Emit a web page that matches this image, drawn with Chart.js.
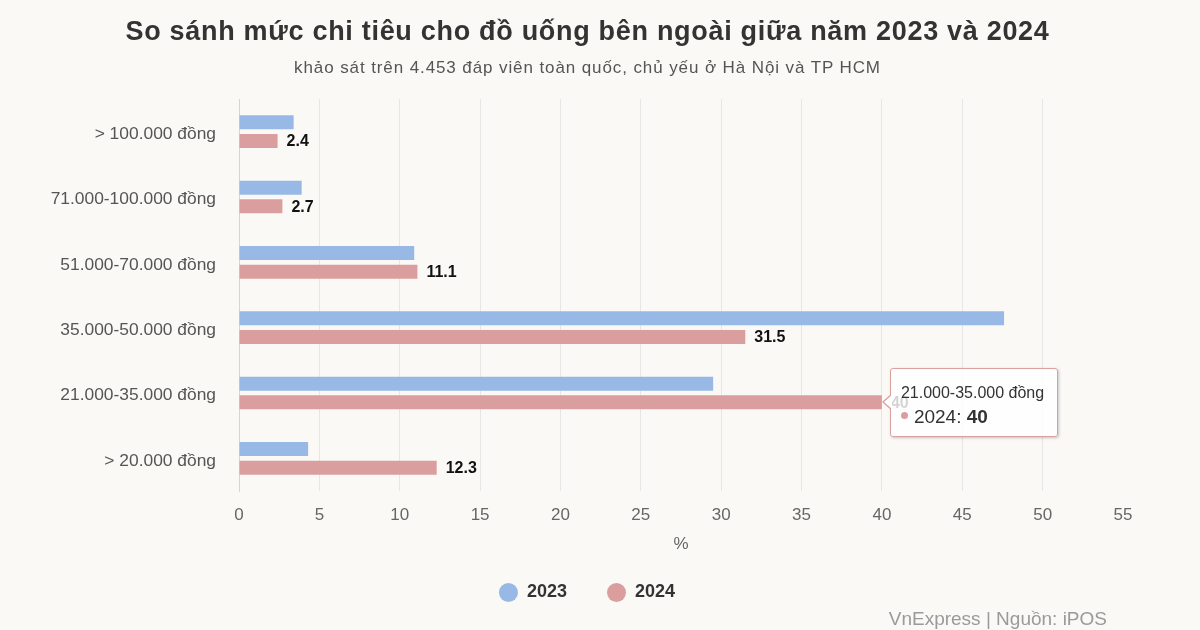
<!DOCTYPE html>
<html>
<head>
<meta charset="utf-8">
<script src="https://cdn.jsdelivr.net/npm/chart.js@4/dist/chart.umd.min.js"></script>
<style>
  html, body { margin: 0; padding: 0; background: #faf9f6; }
  body { width: 1200px; height: 630px; position: relative; overflow: hidden; font-family: 'Liberation Sans', Arial, sans-serif; }
  #title { position: absolute; top: 16px; left: 0; width: 1175px; text-align: center; font-size: 27px; letter-spacing: 0.7px; font-weight: bold; color: #333; }
  #subtitle { position: absolute; top: 58px; left: 0; width: 1175px; text-align: center; font-size: 17px; letter-spacing: 0.9px; color: #555; }
  #footer { position: absolute; top: 608px; right: 93px; font-size: 19px; color: #9a9a9a; }
  #wrap { position: absolute; left: 0; top: 0; width: 1200px; height: 630px; }
  #tt { position: absolute; display: none; background: rgba(255,255,255,0.82); border: 1px solid #dba0a0; border-radius: 3px;
        box-shadow: 1px 1px 3px rgba(0,0,0,0.22); padding: 14px 13px 8px 10px; pointer-events: none; white-space: nowrap; }
  #tt::before { content: ''; position: absolute; left: -9px; top: 50%; margin-top: -8px; border-style: solid;
        border-width: 8px 9px 8px 0; border-color: transparent #dba0a0 transparent transparent; }
  #tt::after { content: ''; position: absolute; left: -7px; top: 50%; margin-top: -7px; border-style: solid;
        border-width: 7px 8px 7px 0; border-color: transparent #ffffff transparent transparent; }
  #tt .t { font-size: 16px; line-height: 20px; color: #333; }
  #tt .b { font-size: 19px; line-height: 22px; margin-top: 3px; color: #333; }
  #tt .dot { display: inline-block; width: 7px; height: 7px; border-radius: 50%; margin-right: 6px; vertical-align: 4px; }
</style>
</head>
<body>
<div id="wrap"><canvas id="c" width="1200" height="630"></canvas></div>
<div id="title">So sánh mức chi tiêu cho đồ uống bên ngoài giữa năm 2023 và 2024</div>
<div id="subtitle">khảo sát trên 4.453 đáp viên toàn quốc, chủ yếu ở Hà Nội và TP HCM</div>
<div id="footer">VnExpress | Nguồn: iPOS</div>
<div id="tt"></div>
<script>
const categories = ['> 100.000 đồng', '71.000-100.000 đồng', '51.000-70.000 đồng', '35.000-50.000 đồng', '21.000-35.000 đồng', '> 20.000 đồng'];
const seriesNames = ['2023', '2024'];
const values2023 = [3.4, 3.9, 10.9, 47.6, 29.5, 4.3];
const values2024 = [2.4, 2.7, 11.1, 31.5, 40, 12.3];
const xMin = 0, xMax = 55, xStep = 5;
const xTitle = '%';
const tooltipCategory = 4; // 21.000-35.000 đồng
const tooltipSeries = 1;   // 2024

const BLUE = '#98b9e6';
const RED = '#db9e9e';
const PAD_LEFT = 51;

Chart.defaults.font.family = "'Liberation Sans', Arial, sans-serif";

const valueLabels = {
  id: 'valueLabels',
  afterDatasetsDraw(chart) {
    const ctx = chart.ctx;
    const meta = chart.getDatasetMeta(1);
    const data = chart.data.datasets[1].data;
    ctx.save();
    ctx.font = "bold 16px 'Liberation Sans', Arial, sans-serif";
    ctx.fillStyle = '#111';
    ctx.textAlign = 'left';
    ctx.textBaseline = 'middle';
    meta.data.forEach((bar, i) => {
      ctx.fillText(String(data[i]), bar.x + 9, bar.y + 1);
    });
    ctx.restore();
  }
};

const legendFit = {
  id: 'legendFit',
  beforeInit(chart) {
    const orig = chart.legend.fit;
    chart.legend.fit = function () {
      orig.call(this);
      this.height = 67;
    };
  }
};

function externalTooltip(context) {
  const tt = document.getElementById('tt');
  const model = context.tooltip;
  if (model.opacity === 0 || !model.dataPoints || !model.dataPoints.length) { tt.style.display = 'none'; return; }
  const dp = model.dataPoints[0];
  const color = dp.dataset.backgroundColor;
  tt.innerHTML = '<div class="t">' + model.title[0] + '</div>' +
    '<div class="b"><span class="dot" style="background:' + color + '"></span>' + dp.dataset.label + ': <b>' + dp.formattedValue + '</b></div>';
  tt.style.display = 'block';
  const canvas = context.chart.canvas;
  const left = canvas.offsetLeft + model.caretX + 8;
  const top = canvas.offsetTop + model.caretY - tt.offsetHeight / 2;
  tt.style.left = left + 'px';
  tt.style.top = top + 'px';
}

const chart = new Chart(document.getElementById('c'), {
  type: 'bar',
  data: {
    labels: categories,
    datasets: [
      { label: seriesNames[0], data: values2023, backgroundColor: BLUE, hoverBackgroundColor: BLUE, borderWidth: 0,
        categoryPercentage: 0.571, barPercentage: 0.75 },
      { label: seriesNames[1], data: values2024, backgroundColor: RED, hoverBackgroundColor: RED, borderWidth: 0,
        categoryPercentage: 0.571, barPercentage: 0.75 }
    ]
  },
  options: {
    indexAxis: 'y',
    responsive: false,
    animation: false,
    events: [],
    layout: { padding: { top: 99, left: PAD_LEFT, right: 77, bottom: 19.5 } },
    scales: {
      x: {
        min: xMin, max: xMax,
        ticks: { stepSize: xStep, color: '#666', font: { size: 17 }, padding: 14 },
        grid: {
          color: (c) => (c.tick && c.tick.value === xMax) ? 'rgba(0,0,0,0)' : '#e6e6e6',
          drawTicks: false, lineWidth: 1
        },
        border: { display: false },
        title: { display: true, text: xTitle, color: '#666', font: { size: 17 }, padding: { top: 0, bottom: -11 } },
        afterFit(scale) { scale.height = 52.5; }
      },
      y: {
        ticks: {
          color: '#555', font: { size: 17.4, lineHeight: 0.3 }, padding: 23,
          callback: function (value) { return ['', this.getLabelForValue(value)]; }
        },
        grid: { display: false, drawTicks: false },
        border: { display: true, color: '#ccd6eb', width: 1 },
        afterFit(scale) { scale.width = 239 - PAD_LEFT; }
      }
    },
    plugins: {
      legend: {
        position: 'bottom',
        labels: {
          usePointStyle: true, pointStyle: 'circle', boxHeight: 13.4, pointStyleWidth: 19,
          padding: 40, color: '#333', font: { size: 18, weight: 'bold' }
        }
      },
      tooltip: { enabled: false, external: externalTooltip }
    }
  },
  plugins: [valueLabels, legendFit]
});

chart.tooltip.setActiveElements([{ datasetIndex: tooltipSeries, index: tooltipCategory }], { x: 0, y: 0 });
chart.update();
</script>
</body>
</html>
